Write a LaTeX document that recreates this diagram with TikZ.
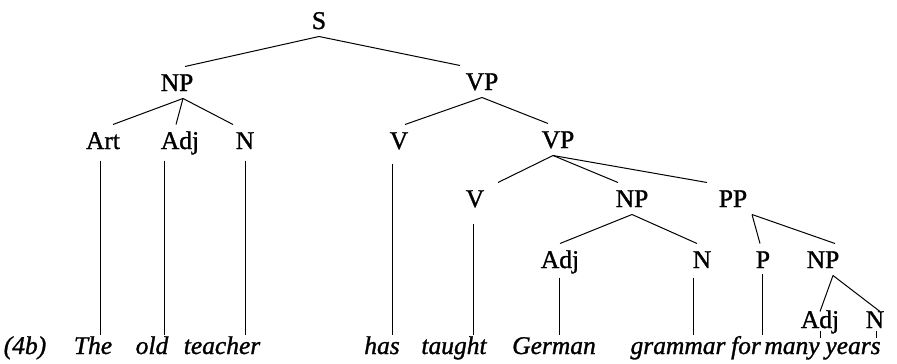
\documentclass[tikz,border=0pt]{standalone}
\usepackage{fontspec}
\setmainfont{Liberation Serif}[FakeBold=1.2]
\begin{document}
\begin{tikzpicture}[x=1pt,y=-1pt,line width=1pt,
  lab/.style={font=\fontsize{25.5}{30}\selectfont, anchor=base, inner xsep=1pt, inner ysep=7pt, text height=17pt, text depth=0pt},
  wrd/.style={font=\fontsize{25.5}{30}\selectfont\itshape, anchor=base, inner xsep=0pt, inner ysep=2pt, text height=17pt, text depth=5pt}]
\useasboundingbox (0,0) rectangle (897,364);
% labels
\node[lab] (s) at (319,29) {S};
\node[lab] (np1) at (177,91) {NP};
\node[lab] (vp1) at (482,90) {VP};
\node[lab] (art) at (103,149) {Art};
\node[lab] (adj1) at (180,149) {Adj};
\node[lab] (n1) at (245,149) {N};
\node[lab] (v1) at (399,149) {V};
\node[lab] (vp2) at (558,148) {VP};
\node[lab] (v2) at (475,207) {V};
\node[lab] (np3) at (632,207) {NP};
\node[lab] (pp) at (733,207) {PP};
\node[lab] (adj3) at (560,268) {Adj};
\node[lab] (n3) at (702,268) {N};
\node[lab] (p) at (763,268) {P};
\node[lab] (np4) at (823,268) {NP};
\node[lab] (adj5) at (820,328) {Adj};
\node[lab] (n5) at (875,328) {N};
% words
\node[wrd] (ex) at (25,354) {(4b)};
\node[wrd] (the) at (93,354) {The};
\node[wrd] (old) at (152,354) {old};
\node[wrd] (teacher) at (222,354) {teacher};
\node[wrd] (has) at (382,354) {has};
\node[wrd] (taught) at (454,354) {taught};
\node[wrd] (german) at (554,354) {German};
\node[wrd] (grammar) at (678,354) {grammar};
\node[wrd] (for) at (746,354) {for};
\node[wrd] (many) at (792,354) {many};
\node[wrd] (years) at (853,354) {years};
% branches
\draw (s.south) -- ([xshift=8pt]np1.north);
\draw (s.south) -- ([xshift=-22pt]vp1.north);
\draw ([xshift=6pt]np1.south) -- ([xshift=10pt]art.north);
\draw ([xshift=6pt]np1.south) -- ([xshift=-4pt]adj1.north);
\draw ([xshift=6pt]np1.south) -- ([xshift=-12pt]n1.north);
\draw (vp1.south) -- ([xshift=6pt]v1.north);
\draw (vp1.south) -- ([xshift=-10pt]vp2.north);
\draw ([xshift=-5pt]vp2.south) -- ([xshift=23pt]v2.north);
\draw ([xshift=-5pt]vp2.south) -- ([xshift=-14pt]np3.north);
\draw ([xshift=-5pt]vp2.south) -- ([xshift=-26pt]pp.north);
\draw (np3.south) -- (adj3.north);
\draw (np3.south) -- ([xshift=-5pt]n3.north);
\draw ([xshift=19pt]pp.south) -- ([xshift=-3pt]p.north);
\draw ([xshift=19pt]pp.south) -- ([xshift=12pt]np4.north);
\draw ([xshift=10pt]np4.south) -- ([yshift=-8pt]adj5.north);
\draw ([xshift=10pt]np4.south) -- ([xshift=5pt,yshift=-8pt]n5.north);
% leaf lines
\draw ([xshift=-3pt,yshift=-4pt]art.south) -- ([xshift=-3pt]art.south |- the.north);
\draw ([xshift=-16pt,yshift=-4pt]adj1.south) -- ([xshift=-16pt]adj1.south |- old.north);
\draw ([yshift=-4pt]n1.south) -- (n1.south |- teacher.north);
\draw ([xshift=-7pt,yshift=-7pt]v1.south) -- ([xshift=-7pt]v1.south |- has.north);
\draw ([xshift=-2pt,yshift=-9pt]v2.south) -- ([xshift=-2pt]v2.south |- taught.north);
\draw ([xshift=-1pt,yshift=-2pt]adj3.south) -- ([xshift=-1pt]adj3.south |- german.north);
\draw ([xshift=-9pt,yshift=-2pt]n3.south) -- ([xshift=-9pt]n3.south |- grammar.north);
\draw ([xshift=-1pt,yshift=2pt]p.south) -- ([xshift=-1pt]p.south |- for.north);
\draw ([yshift=5pt]adj5.south) -- ([yshift=-2pt]adj5.south);
\draw ([xshift=1pt,yshift=5pt]n5.south) -- ([xshift=1pt,yshift=-2pt]n5.south);
\end{tikzpicture}
\end{document}
